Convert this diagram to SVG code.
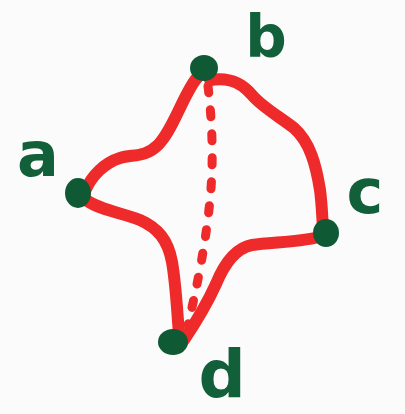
<svg xmlns="http://www.w3.org/2000/svg" width="405" height="414" viewBox="0 0 405 414">
<style>
.edge{fill:none;stroke:#ee2a2a;stroke-width:12;stroke-linecap:round;stroke-linejoin:round}
.dots{fill:none;stroke:#ee2a2a;stroke-width:9;stroke-linecap:round;stroke-dasharray:7 17}
.node{fill:#0f5a34}
.lbl{font-family:"DejaVu Sans",sans-serif;font-weight:bold;fill:#11603a;text-anchor:middle}
</style>
<rect width="405" height="414" fill="#fbfbfb"/>
<g id="connectors">
<path class="edge" d="M86,189 C92,176 104,163 120,158 C132,154 145,158 158,145 C170,133 178,110 188,92 C194,81 198,75 204,72"/>
<path class="edge" d="M210,80 C222,78 238,78 252,95 C262,107 280,117 294,128 C310,142 316,165 320,190 C322,205 322,215 323,228"/>
<path class="edge" d="M322,236 C306,242 272,242 252,245 C236,248 225,262 216,284 C206,306 194,325 184,340"/>
<path class="edge" d="M86,200 C100,210 122,213 140,220 C158,228 168,240 172,262 C176,285 177,310 179,334"/>
<path class="dots" d="M208,86 C212,120 214,160 210,200 C205,250 196,290 188,325"/>
</g>
<g id="node-a"><ellipse class="node" cx="78" cy="193" rx="13" ry="15"/><text class="lbl" x="38" y="176" font-size="62">a</text></g>
<g id="node-b"><ellipse class="node" cx="204" cy="68" rx="14" ry="13"/><text class="lbl" x="266" y="57" font-size="58">b</text></g>
<g id="node-c"><ellipse class="node" cx="326" cy="233" rx="13" ry="14"/><text class="lbl" x="365" y="213" font-size="62">c</text></g>
<g id="node-d"><ellipse class="node" cx="173" cy="342" rx="15" ry="13"/><text class="lbl" x="222" y="397" font-size="66">d</text></g>
</svg>
